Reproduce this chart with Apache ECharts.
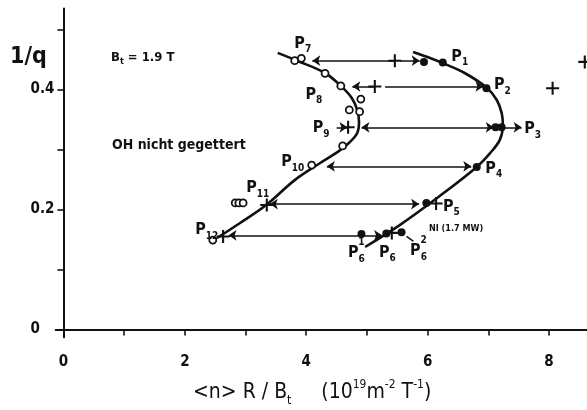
<!DOCTYPE html>
<html>
<head>
<meta charset="utf-8">
<script src="https://cdn.jsdelivr.net/npm/echarts@6/dist/echarts.min.js"></script>
<style>
  html, body { margin: 0; padding: 0; background: #fff; }
  #chart { width: 587px; height: 410px; }
</style>
</head>
<body>
<div id="chart"></div>
<script>
// Axis ticks and labelled ticks
const xTicks = [0, 1, 2, 3, 4, 5, 6, 7, 8];
const xTickLabels = [0, 2, 4, 6, 8];
const yTicks = [0, 0.1, 0.2, 0.3, 0.4, 0.5];
const yTickLabels = [0, 0.2, 0.4];

// Discharge trajectory: outer (high density) and inner (low density) branch
const outerBranch = [
  [5.76, 0.4625], [6.04, 0.4525], [6.25, 0.444], [6.61, 0.4275], [6.98, 0.4025],
  [7.14, 0.3825], [7.22, 0.361], [7.24, 0.341], [7.19, 0.316], [7.03, 0.294],
  [6.81, 0.271], [6.20, 0.2225], [5.54, 0.174], [4.97, 0.1375]
];
const innerBranch = [
  [3.53, 0.461], [3.86, 0.4475], [4.31, 0.4275], [4.57, 0.406], [4.75, 0.386],
  [4.84, 0.366], [4.87, 0.346], [4.84, 0.3275], [4.72, 0.3125], [4.52, 0.296],
  [4.23, 0.2775], [3.81, 0.249], [3.34, 0.2075], [2.91, 0.1775], [2.53, 0.1525]
];

// Measured points
const filledPoints = [
  [5.94, 0.446], [6.25, 0.445], [6.97, 0.402], [7.12, 0.337], [7.22, 0.337],
  [6.81, 0.271], [5.98, 0.211], [4.91, 0.159], [5.32, 0.160], [5.57, 0.162]
];
const openPoints = [
  [3.81, 0.448], [3.92, 0.452], [4.31, 0.427], [4.57, 0.406], [4.90, 0.384],
  [4.71, 0.366], [4.88, 0.363], [4.60, 0.306], [4.09, 0.274],
  [2.83, 0.211], [2.89, 0.211], [2.96, 0.211], [2.46, 0.149]
];
const plusPoints = [
  [5.46, 0.448], [5.13, 0.405], [8.06, 0.402], [8.59, 0.446], [4.69, 0.337],
  [6.14, 0.210], [5.41, 0.161], [3.35, 0.2075], [2.63, 0.155]
];

// Arrows as [1/q, tail, head]
const singleArrows = [
  [0.448, 5.46, 4.10], [0.448, 5.55, 5.87],
  [0.405, 5.13, 4.76], [0.405, 5.30, 6.92],
  [0.337, 4.50, 4.68], [0.337, 7.27, 7.55],
  [0.157, 4.91, 2.72], [0.157, 4.95, 5.25]
];
const doubleArrows = [
  [0.337, 4.91, 7.09], [0.272, 4.34, 6.72], [0.209, 3.40, 5.86]
];

// Operating points P1 ... P12
const stateNames = ['P1', 'P2', 'P3', 'P4', 'P5', 'P6', 'P6^1', 'P6^2', 'P7', 'P8', 'P9', 'P10', 'P11', 'P12'];
const stateX = [6.25, 6.97, 7.17, 6.81, 5.98, 5.32, 4.91, 5.57, 3.86, 4.57, 4.69, 4.09, 3.35, 2.46];
const stateY = [0.445, 0.402, 0.337, 0.271, 0.211, 0.160, 0.159, 0.162, 0.450, 0.406, 0.337, 0.274, 0.2075, 0.149];

// Label placement (pixel offsets from each point)
const labelOffset = {
  'P1': [17, -6], 'P2': [16, -3], 'P3': [34, 2], 'P4': [17, 2], 'P5': [25, 4],
  'P6': [1, 19], 'P6^1': [-5, 19], 'P6^2': [17, 19], 'P7': [5, -16], 'P8': [-27, 9],
  'P9': [-27, 1], 'P10': [-19, -3], 'P11': [-9, -17], 'P12': [-6, -10]
};

const FONT = "'DejaVu Sans Condensed', 'DejaVu Sans', sans-serif";
const INK = '#111';

const chart = echarts.init(document.getElementById('chart'), null, { renderer: 'canvas' });

const plusPath = 'path://M4.2,0H5.8V4.2H10V5.8H5.8V10H4.2V5.8H0V4.2H4.2Z';

function labelText(name) {
  const m = name.match(/^P(\d+)/);
  return '{p|P}{s|' + m[1] + '}';
}

const option = {
  animation: false,
  backgroundColor: '#fff',
  grid: { left: 55.6, right: 0.4, top: 8.5, bottom: 72.7, containLabel: false },
  xAxis: {
    type: 'value', min: -0.13, max: 8.62,
    splitLine: { show: false },
    axisLine: { onZero: true, lineStyle: { color: INK, width: 2 } },
    axisTick: { customValues: xTicks, length: 6, inside: false, lineStyle: { color: INK, width: 1.6 } },
    axisLabel: {
      customValues: xTickLabels, margin: 17,
      fontFamily: FONT, fontSize: 15, fontWeight: 'bold', color: INK,
      formatter: v => String(v)
    }
  },
  yAxis: {
    type: 'value', min: -0.013, max: 0.535,
    splitLine: { show: false },
    axisLine: { onZero: true, lineStyle: { color: INK, width: 2 } },
    axisTick: { customValues: yTicks, length: 6, lineStyle: { color: INK, width: 1.6 } },
    axisLabel: {
      customValues: yTickLabels, margin: 25, align: 'left',
      fontFamily: FONT, fontSize: 15, fontWeight: 'bold', color: INK,
      formatter: v => (v === 0 ? '0' : v.toFixed(1))
    }
  },
  series: [
    {
      type: 'line', data: outerBranch, smooth: 0.35, symbol: 'none',
      lineStyle: { color: INK, width: 2.6 }, z: 3
    },
    {
      type: 'line', data: innerBranch, smooth: 0.35, symbol: 'none',
      lineStyle: { color: INK, width: 2.6 }, z: 3
    },
    {
      type: 'lines', coordinateSystem: 'cartesian2d',
      symbol: ['none', 'arrow'], symbolSize: 8,
      lineStyle: { color: INK, width: 1.5, opacity: 1, curveness: 0 },
      data: singleArrows.map(a => ({ coords: [[a[1], a[0]], [a[2], a[0]]] })),
      z: 2
    },
    {
      type: 'lines', coordinateSystem: 'cartesian2d',
      symbol: ['arrow', 'arrow'], symbolSize: 8,
      lineStyle: { color: INK, width: 1.5, opacity: 1, curveness: 0 },
      data: doubleArrows.map(a => ({ coords: [[a[1], a[0]], [a[2], a[0]]] })),
      z: 2
    },
    {
      type: 'scatter', data: filledPoints, symbol: 'circle', symbolSize: 8,
      itemStyle: { color: INK, opacity: 1 }, z: 5
    },
    {
      type: 'scatter', data: openPoints, symbol: 'circle', symbolSize: 7,
      itemStyle: { color: '#fff', borderColor: INK, borderWidth: 1.8, opacity: 1 }, z: 5
    },
    {
      type: 'scatter', data: plusPoints, symbol: plusPath, symbolSize: 13,
      itemStyle: { color: INK, opacity: 1 }, z: 6, clip: false
    },
    {
      type: 'scatter', symbol: 'circle', symbolSize: 0, z: 7,
      itemStyle: { color: INK, opacity: 1 },
      data: stateNames.map((n, i) => ({
        name: n, value: [stateX[i], stateY[i]],
        label: { offset: labelOffset[n] }
      })),
      label: {
        show: true, position: 'inside', color: INK, textBorderWidth: 0,
        formatter: p => labelText(p.name),
        rich: {
          p: { fontFamily: FONT, fontSize: 16, fontWeight: 'bold', color: INK, textBorderWidth: 0, lineHeight: 22 },
          s: { fontFamily: FONT, fontSize: 10, fontWeight: 'bold', color: INK, textBorderWidth: 0, lineHeight: 10, verticalAlign: 'bottom' }
        }
      }
    },
    {
      // superscripts of P6^1 and P6^2
      type: 'scatter', symbol: 'circle', symbolSize: 0, z: 7,
      itemStyle: { color: INK, opacity: 1 },
      data: stateNames.map((n, i) => ({ n, i })).filter(o => o.n.indexOf('^') > 0).map(o => ({
        name: o.n.split('^')[1], value: [stateX[o.i], stateY[o.i]],
        label: { offset: [labelOffset[o.n][0] + 5, labelOffset[o.n][1] - 11] }
      })),
      label: {
        show: true, position: 'inside', formatter: p => p.name, textBorderWidth: 0,
        fontFamily: FONT, fontSize: 10, fontWeight: 'bold', color: INK
      }
    }
  ],
  graphic: [
    {
      type: 'text', left: 10, top: 46,
      style: { text: '1/q', fontFamily: FONT, fontSize: 23, fontWeight: 'bold', fill: INK }
    },
    {
      type: 'text', left: 111, top: 51,
      style: {
        text: '{a|B}{s|t}{a| = 1.9 T}',
        rich: {
          a: { fontFamily: FONT, fontSize: 13, fontWeight: 'bold', fill: INK, lineHeight: 18 },
          s: { fontFamily: FONT, fontSize: 9, fontWeight: 'bold', fill: INK, lineHeight: 9, verticalAlign: 'bottom' }
        }
      }
    },
    {
      type: 'text', left: 112, top: 138,
      style: { text: 'OH nicht gegettert', fontFamily: FONT, fontSize: 14, fontWeight: 'bold', fill: INK }
    },
    {
      type: 'text', left: 429, top: 224,
      style: { text: 'NI (1.7 MW)', fontFamily: FONT, fontSize: 9, fontWeight: 'bold', fill: INK }
    },
    {
      type: 'text', left: 193, top: 379,
      style: {
        text: '{a|<n> R / B}{s|t}{a|     (10}{u|19}{a|m}{u|-2}{a| T}{u|-1}{a|)}',
        rich: {
          a: { fontFamily: FONT, fontSize: 21, fill: INK, lineHeight: 28 },
          s: { fontFamily: FONT, fontSize: 12, fill: INK, lineHeight: 12, verticalAlign: 'bottom' },
          u: { fontFamily: FONT, fontSize: 12, fill: INK, lineHeight: 12, verticalAlign: 'top' }
        }
      }
    }
  ]
};

chart.setOption(option);

// leader from the P6^2 point to its label
const k = stateNames.indexOf('P6^2');
const pt = chart.convertToPixel({ gridIndex: 0 }, [stateX[k], stateY[k]]);
chart.setOption({
  graphic: option.graphic.concat([{
    type: 'line', shape: { x1: pt[0] + 5, y1: pt[1] + 4, x2: pt[0] + 12, y2: pt[1] + 9 },
    style: { stroke: INK, lineWidth: 1.5 }
  }])
});
</script>
</body>
</html>
